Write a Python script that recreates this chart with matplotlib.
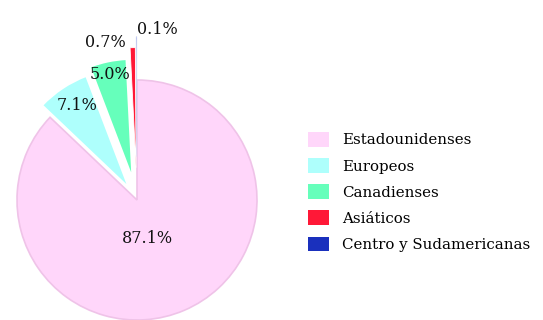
import matplotlib
matplotlib.use("Agg")
import matplotlib.pyplot as plt
import numpy as np
from matplotlib.patches import Patch

# Origin of visitors (share of total, %)
categories = ["Estadounidenses", "Europeos", "Canadienses", "Asiáticos",
              "Centro y Sudamericanas"]
shares = [87.1, 7.1, 5.0, 0.7, 0.1]
colors = ["#ffd6fa", "#aefffc", "#66ffbb", "#ff1837", "#1a30bd"]
explode = [0.0, 0.12, 0.18, 0.27, 0.36]

plt.rcParams["font.family"] = ["DejaVu Serif"]

fig = plt.figure(figsize=(5.43, 3.2), dpi=100)
ax = fig.add_axes([0, 0, 274 / 543, 1.0])

wedges, _ = ax.pie(shares, colors=colors, explode=explode, startangle=90,
                   counterclock=False, radius=1.0,
                   wedgeprops=dict(edgecolor="white", linewidth=1.5))
wedges[0].set_edgecolor("#efc3e8")
wedges[0].set_linewidth(1.2)
# thin slivers keep a finer outline so they stay visible
wedges[3].set_linewidth(0.6)
wedges[4].set_linewidth(0.4)
wedges[4].set_edgecolor("#d8def5")

# Percentage labels, placed along each wedge's bisector
label_pos = {0: (0.09, -0.32), 1: (-0.50, 0.79), 2: (-0.225, 1.05),
             3: (-0.26, 1.31), 4: (0.17, 1.42)}
for i, w in enumerate(wedges):
    x, y = label_pos[i]
    ax.text(x, y, f"{shares[i]:.1f}%", ha="center", va="center",
            fontsize=11.5, color="#111111")

ax.set_xlim(-137 / 120, 137 / 120)
ax.set_ylim(-1.0, 200 / 120)
ax.set_aspect("auto")
ax.axis("off")

handles = [Patch(facecolor=c, edgecolor="none") for c in colors]
fig.legend(handles, categories, loc="center left",
           bbox_to_anchor=(300 / 543, 1 - 192 / 320), frameon=False,
           fontsize=10.8, handlelength=1.45, handleheight=1.1,
           handletextpad=0.85, labelspacing=0.72, borderpad=0)

fig.savefig("out.png", dpi=100, facecolor="white")
